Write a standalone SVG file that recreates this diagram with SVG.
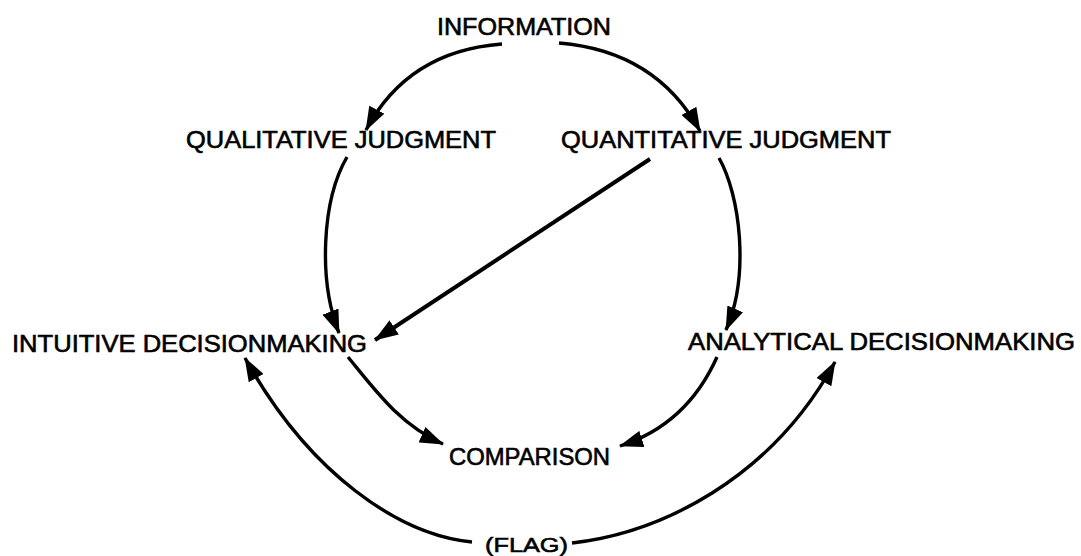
<svg xmlns="http://www.w3.org/2000/svg" width="1081" height="556" viewBox="0 0 1081 556">
  <defs>
    <style>
      .label { font-family: "Liberation Sans", Arial, Helvetica, sans-serif; font-size: 23.5px; fill: #000; stroke: #000; stroke-width: 0.6px; }
      .flag { font-size: 21px; }
      .edge { fill: none; stroke: #000; stroke-width: 3.4; stroke-linecap: butt; marker-end: url(#head); }
    </style>
    <marker id="head" viewBox="0 0 24 17" refX="23" refY="8.5" markerWidth="24" markerHeight="17" markerUnits="userSpaceOnUse" orient="auto">
      <path d="M0,0 L24,8.5 L0,17 z" fill="#000"/>
    </marker>
  </defs>
  <rect width="1081" height="556" fill="#fff"/>

  <!-- connectors -->
  <g id="connectors">
    <!-- information to the two judgments -->
    <path class="edge" d="M502 44 Q408 51 366 130"/>
    <path class="edge" d="M559 43 Q656 51 700 131"/>
    <!-- judgments to decisionmaking -->
    <path class="edge" d="M347 157 C322 200 318 280 339 333"/>
    <path class="edge" style="stroke-width:4" d="M650 159 L375 340"/>
    <path class="edge" d="M719 158 C740 195 750 275 726 330"/>
    <!-- decisionmaking to comparison -->
    <path class="edge" d="M348 357 C375 390 400 425 443 444"/>
    <path class="edge" d="M717 357 C700 395 670 430 620 446"/>
    <!-- flag back to decisionmaking -->
    <path class="edge" d="M472 542 C400 535 310 475 245 358"/>
    <path class="edge" d="M572 543 C660 533 770 480 835 362"/>
  </g>

  <g id="information">
    <text class="label" x="437" y="34.5" textLength="174" lengthAdjust="spacingAndGlyphs">INFORMATION</text>
  </g>
  <g id="qualitative-judgment">
    <text class="label" x="186" y="148" textLength="310" lengthAdjust="spacingAndGlyphs">QUALITATIVE JUDGMENT</text>
  </g>
  <g id="quantitative-judgment">
    <text class="label" x="561" y="148" textLength="330" lengthAdjust="spacingAndGlyphs">QUANTITATIVE JUDGMENT</text>
  </g>
  <g id="intuitive-decisionmaking">
    <text class="label" x="12" y="352" textLength="355" lengthAdjust="spacingAndGlyphs">INTUITIVE DECISIONMAKING</text>
  </g>
  <g id="analytical-decisionmaking">
    <text class="label" x="688" y="350" textLength="387" lengthAdjust="spacingAndGlyphs">ANALYTICAL DECISIONMAKING</text>
  </g>
  <g id="comparison">
    <text class="label" x="449" y="465" textLength="161" lengthAdjust="spacingAndGlyphs">COMPARISON</text>
  </g>
  <g id="flag">
    <text class="label flag" x="485" y="552" textLength="83" lengthAdjust="spacingAndGlyphs">(FLAG)</text>
  </g>
</svg>
